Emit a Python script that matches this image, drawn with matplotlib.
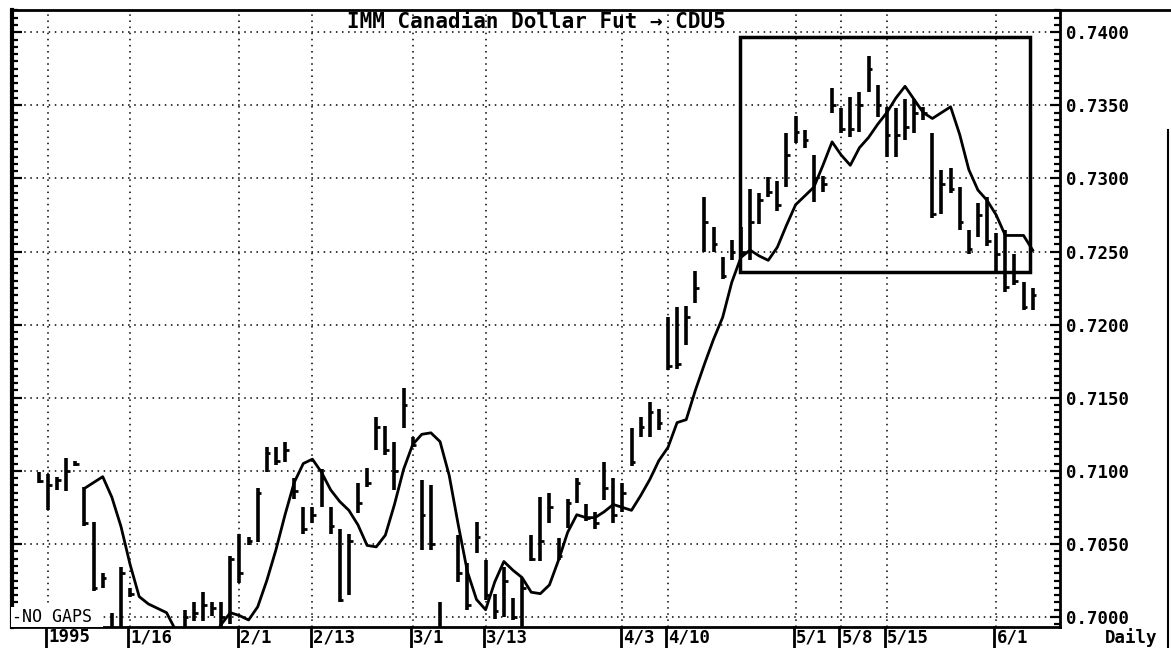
import matplotlib.pyplot as plt
from matplotlib.patches import Rectangle
from matplotlib.lines import Line2D
import numpy as np

# daily bars, day 0 = first trading day of 1995
nan = float('nan')
first_day = -1
highs = [0.7099, 0.7098, 0.7096, 0.7109, 0.7107, 0.7089, 0.7065, 0.7030, 0.7003, 0.7034,
         0.7020, nan, nan, nan, nan, nan, 0.7005, 0.7010, 0.7017, 0.7010,
         0.7010, 0.7042, 0.7057, 0.7055, 0.7088, 0.7116, 0.7116, 0.7120, 0.7095, 0.7075,
         0.7075, 0.7101, 0.7075, 0.7060, 0.7057, 0.7092, 0.7102, 0.7137, 0.7131, 0.7120,
         0.7157, 0.7123, 0.7094, 0.7090, 0.7010, nan, 0.7056, 0.7037, 0.7065, 0.7039,
         0.7016, 0.7034, 0.7013, 0.7027, 0.7056, 0.7082, 0.7085, 0.7054, 0.7081, 0.7095,
         0.7077, 0.7072, 0.7106, 0.7095, 0.7092, 0.7129, 0.7137, 0.7147, 0.7142, 0.7205,
         0.7212, 0.7213, 0.7237, 0.7287, 0.7267, 0.7246, 0.7258, 0.7267, 0.7293, 0.7290,
         0.7301, 0.7298, 0.7331, 0.7343, 0.7333, 0.7316, 0.7302, 0.7362, 0.7348, 0.7356,
         0.7359, 0.7384, 0.7364, 0.7349, 0.7348, 0.7354, 0.7354, 0.7349, 0.7331, 0.7306,
         0.7307, 0.7294, 0.7265, 0.7283, 0.7287, 0.7263, 0.7265, 0.7248, 0.7229, 0.7225]
lows = [0.7092, 0.7073, 0.7087, 0.7086, 0.7103, 0.7062, 0.7018, 0.7020, 0.6984, 0.6984,
        0.7014, nan, nan, nan, nan, nan, 0.6984, 0.6997, 0.6997, 0.7001,
        0.6984, 0.6995, 0.7023, 0.7049, 0.7051, 0.7099, 0.7104, 0.7106, 0.7081, 0.7057,
        0.7064, 0.7075, 0.7057, 0.7010, 0.7015, 0.7071, 0.7089, 0.7114, 0.7111, 0.7087,
        0.7129, 0.7116, 0.7046, 0.7046, 0.6984, nan, 0.7024, 0.7005, 0.7044, 0.7012,
        0.6999, 0.7000, 0.6998, 0.6984, 0.7038, 0.7038, 0.7064, 0.7039, 0.7061, 0.7078,
        0.7066, 0.7060, 0.7080, 0.7064, 0.7072, 0.7103, 0.7123, 0.7123, 0.7128, 0.7169,
        0.7170, 0.7186, 0.7215, 0.7250, 0.7250, 0.7231, 0.7244, 0.7246, 0.7244, 0.7269,
        0.7287, 0.7278, 0.7294, 0.7324, 0.7321, 0.7284, 0.7291, 0.7345, 0.7331, 0.7328,
        0.7332, 0.7359, 0.7342, 0.7315, 0.7315, 0.7326, 0.7331, 0.7340, 0.7273, 0.7276,
        0.7290, 0.7265, 0.7248, 0.7260, 0.7254, 0.7237, 0.7222, 0.7227, 0.7210, 0.7210]
closes = [0.7093, 0.7090, 0.7094, 0.7100, 0.7105, 0.7064, 0.7020, 0.7027, 0.6990, 0.7030,
          0.7016, nan, nan, nan, nan, nan, 0.7000, 0.7003, 0.7008, 0.7006,
          0.7000, 0.7040, 0.7030, 0.7052, 0.7085, 0.7112, 0.7107, 0.7114, 0.7086, 0.7060,
          0.7070, 0.7095, 0.7062, 0.7012, 0.7052, 0.7078, 0.7092, 0.7130, 0.7114, 0.7100,
          0.7145, 0.7118, 0.7070, 0.7050, 0.6990, nan, 0.7030, 0.7008, 0.7055, 0.7015,
          0.7004, 0.7025, 0.7000, 0.7020, 0.7040, 0.7052, 0.7075, 0.7042, 0.7078, 0.7092,
          0.7068, 0.7064, 0.7088, 0.7070, 0.7085, 0.7106, 0.7130, 0.7140, 0.7133, 0.7172,
          0.7173, 0.7205, 0.7225, 0.7270, 0.7255, 0.7233, 0.7250, 0.7250, 0.7270, 0.7285,
          0.7291, 0.7282, 0.7316, 0.7332, 0.7326, 0.7300, 0.7296, 0.7350, 0.7334, 0.7334,
          0.7350, 0.7375, 0.7350, 0.7330, 0.7330, 0.7335, 0.7345, 0.7345, 0.7276, 0.7296,
          0.7293, 0.7270, 0.7252, 0.7275, 0.7257, 0.7248, 0.7226, 0.7230, 0.7212, 0.7220]

# moving average, starts at day 4
ma_first = 4
ma = [0.7088, 0.7092, 0.7096, 0.7082, 0.7062, 0.7036, 0.7014, 0.7009, 0.7006, 0.7003,
      0.6991, 0.6985, 0.6983, 0.6983, 0.6985, 0.6995, 0.7003, 0.7001, 0.6998, 0.7007,
      0.7025, 0.7046, 0.7070, 0.7092, 0.7105, 0.7108, 0.7099, 0.7087, 0.7079, 0.7073,
      0.7063, 0.7049, 0.7048, 0.7056, 0.7077, 0.7101, 0.7118, 0.7125, 0.7126, 0.7120,
      0.7097, 0.7063, 0.7031, 0.7012, 0.7005, 0.7024, 0.7038, 0.7032, 0.7027, 0.7017,
      0.7016, 0.7022, 0.7039, 0.7058, 0.7070, 0.7068, 0.7068, 0.7072, 0.7077, 0.7075,
      0.7073, 0.7083, 0.7094, 0.7107, 0.7116, 0.7133, 0.7135, 0.7155, 0.7173, 0.7190,
      0.7205, 0.7229, 0.7246, 0.7251, 0.7247, 0.7244, 0.7253, 0.7268, 0.7282, 0.7288,
      0.7294, 0.7309, 0.7325, 0.7316, 0.7309, 0.7321, 0.7328, 0.7337, 0.7345, 0.7355,
      0.7363, 0.7354, 0.7345, 0.7341, 0.7345, 0.7349, 0.7330, 0.7306, 0.7292, 0.7285,
      0.7275, 0.7261, 0.7261, 0.7261, 0.7251]

tick_days = [0, 9, 21, 29, 40, 48, 63, 68, 82, 87, 92, 104]
tick_labels = ["1995", "1/16", "2/1", "2/13", "3/1", "3/13", "4/3", "4/10",
               "5/1", "5/8", "5/15", "6/1"]
price_levels = [0.7000, 0.7050, 0.7100, 0.7150, 0.7200, 0.7250, 0.7300, 0.7350, 0.7400]
box_days = [75.9, 107.7]
box_prices = [0.7236, 0.7397]
title = "IMM Canadian Dollar Fut \u2192 CDU5"

plt.rcParams['font.family'] = ['DejaVu Sans Mono', 'DejaVu Sans']
plt.rcParams['font.weight'] = 'bold'

W, H = 1171, 648
fig = plt.figure(figsize=(W / 100, H / 100), dpi=100)
ax = fig.add_axes([12 / W, 21 / H, 1048 / W, 617 / H])

days = np.arange(first_day, first_day + len(highs))
ma_days = np.arange(ma_first, ma_first + len(ma))

ax.vlines(days, lows, highs, color='black', lw=2.6)
ax.hlines(closes, days, days + 0.4, color='black', lw=2)
ax.plot(ma_days, ma, color='black', lw=2)

ax.add_patch(Rectangle((box_days[0], box_prices[0]), box_days[1] - box_days[0],
                       box_prices[1] - box_prices[0], fill=False, ec='black', lw=2.5))

ax.set_xlim(-3.95, 111.0)
ax.set_ylim(0.69932, 0.74152)

ax.set_xticks(tick_days)
ax.tick_params(axis='x', length=0, labelbottom=False)
ax.set_yticks(price_levels)
ax.set_yticklabels(["%.4f" % p for p in price_levels])
ax.set_yticks(np.arange(0.6995, 0.7415, 0.0005), minor=True)
ax.yaxis.tick_right()
ax.tick_params(axis='y', which='both', direction='in', left=True, right=True,
               labelleft=False, labelright=True, width=1.6, labelsize=12.5, pad=4)
ax.tick_params(axis='y', which='major', length=7)
ax.tick_params(axis='y', which='minor', length=4)
ax.grid(True, which='major', color='black', linestyle=(0, (1, 3)), lw=1.1)

for s in ax.spines.values():
    s.set_linewidth(2)
ax.spines['left'].set_linewidth(3)

# title + labels
ax.text(0.5, 1 - 12 / 617, title, transform=ax.transAxes, ha='center', va='center',
        fontsize=15)
ax.text(0.0, 0.7000, "-NO GAPS ", transform=ax.get_yaxis_transform(), ha='left',
        va='center', fontsize=12, fontweight='normal',
        bbox=dict(fc='white', ec='none', pad=0.5))

tr = ax.get_xaxis_transform()
for d, lab in zip(tick_days, tick_labels):
    ax.plot([d - 0.2, d - 0.2], [0, -21 / 617], transform=tr, color='black', lw=2,
            clip_on=False)
    ax.text(d + 0.05, -10 / 617, lab, transform=tr, ha='left', va='center',
            fontsize=12.5)
fig.text(1131 / W, 10 / H, "Daily", ha='center', va='center', fontsize=12.5)

# bits of the outer frame
fig.add_artist(Line2D([1060 / W, 1], [1 - 10 / H] * 2, color='black', lw=2))
fig.add_artist(Line2D([1168 / W] * 2, [0, 1 - 130 / H], color='black', lw=1.5))

fig.savefig("out.png", dpi=100)
